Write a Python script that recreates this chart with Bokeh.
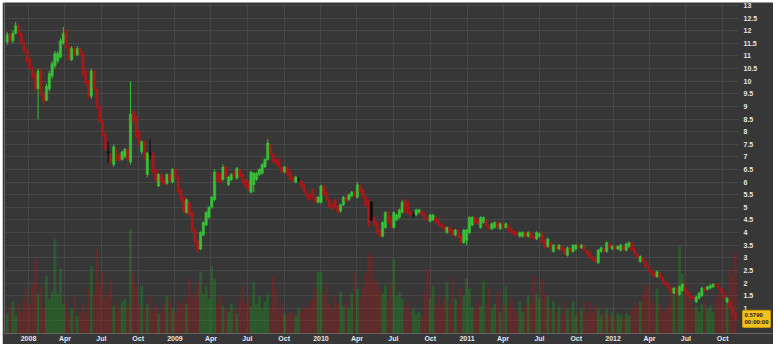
import numpy as np
import pandas as pd
from bokeh.plotting import figure
from bokeh.models import (ColumnDataSource, Range1d, FixedTicker,
                          CustomJSTickFormatter, Label)
from bokeh.embed import file_html
from bokeh.resources import INLINE

# ---------------- data (weekly bars) ----------------
FIRST_WEEK = "2007-11-09"

OPEN = [
    11.55, 11.85, 11.6, 11.9, 12.2, 11.9, 11.5, 11.2, 10.9, 10.5,
    10.3, 9.7, 10.4, 9.5, 9.25, 9.7, 10.2, 10.6, 10.8, 10.95,
    11.5, 12.0, 11.35, 10.85, 11.3, 11.05, 11.3, 11.1, 10.4, 10.0,
    9.4, 10.4, 9.7, 9.0, 8.4, 7.9, 7.2, 7.1, 6.7, 7.3,
    7.1, 6.9, 7.0, 7.3, 6.8, 8.8, 8.6, 8.0, 7.2, 7.6,
    6.3, 7.15, 7.15, 6.5, 5.85, 6.3, 6.1, 5.95, 6.3, 6.0,
    6.5, 6.2, 5.7, 5.4, 4.8, 5.2, 4.8, 4.1, 3.65, 3.35,
    3.9, 4.3, 4.6, 5.0, 5.3, 6.4, 6.3, 6.1, 6.6, 5.9,
    6.1, 6.4, 6.15, 6.5, 6.3, 6.1, 6.0, 5.6, 5.9, 6.1,
    6.3, 6.35, 6.6, 6.9, 7.45, 7.1, 6.9, 6.9, 6.6, 6.4,
    6.6, 6.4, 6.2, 6.0, 6.1, 6.05, 5.9, 5.6, 5.5, 5.7,
    5.4, 5.2, 5.2, 5.85, 5.6, 5.3, 5.1, 5.3, 5.05, 4.85,
    5.1, 5.4, 5.3, 5.45, 5.6, 5.4, 5.85, 5.7, 5.4, 5.3,
    5.2, 4.6, 4.4, 4.1, 3.85, 4.2, 4.8, 4.6, 4.2, 4.5,
    4.6, 4.8, 5.3, 5.2, 4.8, 4.7, 4.7, 4.8, 4.85, 4.75,
    4.6, 4.45, 4.5, 4.6, 4.45, 4.35, 4.25, 4.0, 4.2, 4.1,
    3.9, 4.1, 3.9, 3.6, 3.7, 4.0, 4.3, 4.6, 4.5, 4.2,
    4.4, 4.5, 4.3, 4.15, 4.2, 4.4, 4.15, 4.35, 4.2, 4.3,
    4.15, 4.05, 4.0, 3.85, 3.85, 4.0, 3.85, 4.0, 3.85, 3.75,
    3.85, 3.95, 3.7, 3.45, 3.6, 3.25, 3.45, 3.35, 3.45, 3.35,
    3.1, 3.35, 3.25, 3.35, 3.5, 3.4, 3.45, 3.3, 3.2, 3.05,
    2.95, 2.8, 3.25, 3.35, 3.25, 3.55, 3.35, 3.45, 3.35, 3.3,
    3.45, 3.3, 3.45, 3.6, 3.35, 3.15, 2.85, 3.0, 2.85, 2.65,
    2.5, 2.4, 2.25, 2.4, 2.2, 2.05, 1.95, 1.8, 1.6, 1.75,
    1.55, 1.7, 1.8, 1.65, 1.5, 1.45, 1.25, 1.4, 1.5, 1.8,
    1.75, 1.8, 1.85, 1.95, 1.9, 1.8, 1.6, 1.25, 1.3, 1.0,
    0.8,
]

CLOSE = [
    11.85, 11.6, 11.9, 12.2, 11.9, 11.5, 11.2, 10.8, 10.5, 10.2,
    9.7, 10.4, 9.5, 9.2, 9.8, 10.3, 10.7, 11.1, 11.1, 11.6,
    11.9, 11.35, 10.85, 11.3, 11.05, 11.3, 11.1, 10.3, 9.9, 9.4,
    10.4, 9.7, 9.0, 8.4, 7.9, 7.3, 7.15, 6.8, 7.4, 6.9,
    6.85, 7.2, 7.3, 6.9, 8.7, 8.4, 7.8, 7.5, 7.6, 7.1,
    7.15, 7.1, 6.4, 6.05, 6.3, 6.0, 5.9, 6.3, 6.05, 6.5,
    6.2, 5.6, 5.3, 4.8, 5.3, 4.7, 4.1, 3.65, 3.3, 4.0,
    4.4, 4.8, 5.0, 5.4, 6.4, 6.0, 6.0, 6.6, 6.2, 6.2,
    6.3, 6.2, 6.55, 6.2, 6.0, 5.8, 5.7, 6.4, 6.35, 6.35,
    6.5, 6.7, 6.9, 7.55, 7.1, 6.8, 6.7, 6.6, 6.4, 6.6,
    6.3, 6.1, 6.05, 6.2, 6.1, 5.8, 5.6, 5.4, 5.3, 5.4,
    5.2, 5.4, 5.85, 5.5, 5.3, 5.0, 4.95, 5.0, 4.8, 5.1,
    5.4, 5.25, 5.5, 5.6, 5.45, 5.9, 5.6, 5.4, 5.05, 4.3,
    4.5, 4.3, 4.0, 3.85, 4.4, 4.8, 4.4, 4.2, 4.8, 4.7,
    4.9, 5.2, 4.8, 4.75, 4.7, 4.7, 4.9, 4.9, 4.7, 4.6,
    4.5, 4.7, 4.7, 4.4, 4.3, 4.2, 4.1, 4.2, 4.0, 3.9,
    4.1, 3.8, 3.6, 4.1, 4.1, 4.6, 4.6, 4.4, 4.35, 4.6,
    4.6, 4.25, 4.15, 4.35, 4.4, 4.2, 4.35, 4.2, 4.35, 4.1,
    3.95, 3.9, 3.9, 4.0, 4.0, 3.85, 4.0, 3.8, 3.75, 4.0,
    3.95, 3.6, 3.4, 3.75, 3.4, 3.5, 3.35, 3.5, 3.3, 3.15,
    3.4, 3.25, 3.5, 3.5, 3.4, 3.5, 3.3, 3.15, 3.0, 2.9,
    2.85, 3.3, 3.4, 3.25, 3.6, 3.4, 3.45, 3.35, 3.45, 3.5,
    3.3, 3.55, 3.6, 3.3, 3.15, 3.0, 3.05, 2.85, 2.65, 2.5,
    2.35, 2.25, 2.45, 2.2, 2.05, 1.9, 1.8, 1.65, 1.8, 1.6,
    1.85, 1.95, 1.65, 1.5, 1.4, 1.35, 1.45, 1.6, 1.8, 1.7,
    1.85, 1.9, 1.95, 1.9, 1.8, 1.6, 1.4, 1.4, 1.0, 0.8,
    0.579,
]

HIGH = [
    11.95, 11.9, 12.0, 12.35, 12.25, 11.95, 11.6, 11.3, 10.95, 10.6,
    10.4, 10.5, 10.5, 9.6, 9.9, 10.4, 10.8, 11.2, 11.2, 11.7,
    12.15, 12.05, 11.4, 11.4, 11.35, 11.4, 11.35, 11.15, 10.45, 10.05,
    10.5, 10.45, 9.75, 9.05, 8.45, 7.95, 7.6, 7.15, 7.5, 7.35,
    7.15, 7.25, 7.35, 7.35, 10.0, 8.9, 8.65, 8.05, 7.65, 7.65,
    7.2, 7.7, 7.2, 6.55, 6.35, 6.35, 6.15, 6.35, 6.35, 6.55,
    6.55, 6.25, 5.75, 5.45, 5.35, 5.25, 4.85, 4.15, 3.7, 4.05,
    4.45, 4.85, 5.05, 5.45, 6.5, 6.45, 6.35, 6.7, 6.65, 6.25,
    6.35, 6.45, 6.6, 6.55, 6.35, 6.15, 6.05, 6.45, 6.4, 6.4,
    6.55, 6.75, 6.95, 7.7, 7.5, 7.15, 6.95, 6.95, 6.65, 6.65,
    6.65, 6.45, 6.25, 6.25, 6.2, 6.1, 5.95, 5.65, 5.55, 5.75,
    5.45, 5.45, 5.9, 5.9, 5.65, 5.35, 5.15, 5.35, 5.1, 5.15,
    5.45, 5.45, 5.55, 5.65, 5.65, 6.0, 5.9, 5.75, 5.45, 5.35,
    5.25, 4.65, 4.45, 4.15, 4.45, 4.85, 4.85, 4.65, 4.85, 4.75,
    4.95, 5.3, 5.35, 5.25, 4.85, 4.8, 4.95, 4.95, 4.9, 4.8,
    4.65, 4.75, 4.75, 4.65, 4.5, 4.4, 4.3, 4.25, 4.25, 4.15,
    4.15, 4.15, 3.95, 4.15, 4.15, 4.65, 4.65, 4.65, 4.55, 4.65,
    4.65, 4.55, 4.35, 4.4, 4.45, 4.45, 4.4, 4.4, 4.4, 4.35,
    4.2, 4.1, 4.05, 4.05, 4.05, 4.05, 4.05, 4.05, 3.9, 4.05,
    4.0, 4.0, 3.75, 3.8, 3.65, 3.55, 3.5, 3.55, 3.5, 3.4,
    3.45, 3.4, 3.55, 3.55, 3.55, 3.55, 3.5, 3.35, 3.25, 3.1,
    3.0, 3.35, 3.45, 3.4, 3.65, 3.6, 3.5, 3.5, 3.5, 3.55,
    3.5, 3.6, 3.65, 3.65, 3.4, 3.2, 3.1, 3.05, 2.9, 2.7,
    2.55, 2.45, 2.5, 2.45, 2.25, 2.1, 2.0, 1.85, 1.85, 1.8,
    1.9, 2.0, 1.85, 1.7, 1.55, 1.5, 1.5, 1.65, 1.85, 1.85,
    1.9, 1.95, 2.0, 2.0, 1.95, 1.85, 1.65, 1.45, 1.35, 1.05,
    0.85,
]

LOW = [
    11.45, 11.5, 11.5, 11.85, 11.8, 11.4, 11.1, 10.7, 10.4, 10.1,
    9.6, 8.5, 9.4, 9.05, 9.2, 9.6, 10.1, 10.5, 10.7, 10.9,
    11.45, 11.3, 10.8, 10.8, 11.0, 11.0, 11.0, 10.2, 9.8, 9.3,
    9.3, 9.6, 8.9, 8.3, 7.8, 7.2, 6.75, 6.7, 6.6, 6.85,
    6.8, 6.85, 6.95, 6.6, 6.7, 8.3, 7.7, 7.4, 7.1, 6.9,
    6.2, 6.9, 6.3, 6.0, 5.8, 5.95, 5.85, 5.9, 6.0, 5.95,
    6.15, 5.55, 5.2, 4.7, 4.75, 4.6, 4.0, 3.55, 3.2, 3.3,
    3.85, 4.25, 4.55, 4.95, 5.25, 5.95, 5.95, 6.05, 6.15, 5.85,
    6.05, 6.15, 6.1, 6.15, 5.95, 5.75, 5.65, 5.55, 5.6, 6.05,
    6.25, 6.3, 6.55, 6.85, 7.05, 6.75, 6.65, 6.55, 6.35, 6.35,
    6.25, 6.05, 6.0, 5.95, 6.0, 5.75, 5.55, 5.35, 5.25, 5.35,
    5.15, 5.15, 5.15, 5.45, 5.25, 4.95, 4.9, 4.95, 4.75, 4.8,
    5.05, 5.2, 5.25, 5.4, 5.4, 5.35, 5.55, 5.35, 5.0, 4.2,
    4.45, 4.25, 3.95, 3.8, 3.8, 4.15, 4.35, 4.15, 4.15, 4.45,
    4.55, 4.75, 4.75, 4.7, 4.65, 4.6, 4.65, 4.75, 4.65, 4.55,
    4.45, 4.4, 4.45, 4.35, 4.25, 4.15, 4.05, 3.95, 3.95, 3.85,
    3.85, 3.75, 3.5, 3.55, 3.5, 3.95, 4.25, 4.35, 4.3, 4.15,
    4.35, 4.2, 4.1, 4.1, 4.15, 4.15, 4.1, 4.15, 4.15, 4.05,
    3.9, 3.85, 3.85, 3.8, 3.8, 3.8, 3.8, 3.75, 3.7, 3.7,
    3.8, 3.55, 3.35, 3.4, 3.35, 3.2, 3.3, 3.3, 3.25, 3.1,
    3.05, 3.2, 3.2, 3.3, 3.35, 3.35, 3.25, 3.1, 2.95, 2.85,
    2.8, 2.75, 3.2, 3.2, 3.2, 3.35, 3.3, 3.3, 3.3, 3.25,
    3.25, 3.25, 3.4, 3.25, 3.1, 2.95, 2.8, 2.8, 2.6, 2.45,
    2.3, 2.2, 2.2, 2.15, 2.0, 1.85, 1.75, 1.6, 1.55, 1.55,
    1.5, 1.65, 1.6, 1.45, 1.35, 1.3, 1.2, 1.35, 1.45, 1.65,
    1.7, 1.75, 1.8, 1.85, 1.75, 1.55, 1.35, 1.2, 0.95, 0.75,
    0.55,
]

# weekly volume, hundreds of thousands of shares
VOLUME = [
    20, 28, 32, 18, 30, 22, 35, 45, 30, 50,
    75, 40, 48, 25, 58, 35, 42, 95, 40, 65,
    30, 32, 20, 25, 38, 18, 22, 30, 20, 45,
    68, 40, 85, 50, 62, 35, 42, 55, 28, 32,
    25, 32, 35, 28, 105, 60, 48, 30, 48, 25,
    30, 38, 22, 28, 20, 22, 30, 38, 35, 25,
    20, 32, 28, 35, 30, 55, 40, 35, 50, 62,
    40, 48, 35, 68, 55, 30, 38, 28, 25, 22,
    30, 25, 20, 35, 48, 30, 38, 28, 52, 30,
    38, 25, 32, 40, 28, 58, 45, 25, 32, 20,
    18, 22, 20, 18, 25, 22, 28, 25, 32, 35,
    45, 62, 62, 40, 48, 30, 25, 38, 30, 42,
    28, 32, 25, 40, 62, 45, 35, 48, 60, 82,
    78, 55, 52, 45, 40, 48, 35, 50, 75, 38,
    42, 35, 28, 32, 22, 25, 20, 22, 18, 40,
    65, 35, 48, 30, 38, 28, 35, 52, 30, 58,
    35, 30, 45, 38, 55, 45, 28, 25, 32, 28,
    52, 30, 45, 25, 30, 42, 22, 30, 48, 28,
    35, 25, 20, 32, 22, 28, 38, 30, 58, 40,
    35, 55, 40, 38, 25, 32, 22, 28, 20, 32,
    25, 22, 32, 18, 22, 25, 32, 20, 32, 22,
    28, 25, 18, 20, 25, 18, 22, 15, 20, 18,
    15, 20, 18, 25, 32, 28, 32, 40, 48, 48,
    35, 30, 45, 30, 22, 25, 30, 45, 38, 50,
    88, 60, 52, 35, 38, 25, 28, 22, 30, 32,
    25, 28, 22, 35, 42, 38, 30, 35, 65, 58,
    82,
]

# weeks drawn as black (unchanged) candles
BLACK_WEEKS = ["2008-07-18", "2008-10-31", "2009-11-06", "2010-05-07", "2010-08-20"]

Y_TICKS = [0.5, 1, 1.5, 2, 2.5, 3, 3.5, 4, 4.5, 5, 5.5, 6, 6.5, 7, 7.5, 8,
           8.5, 9, 9.5, 10, 10.5, 11, 11.5, 12, 12.5, 13]
LAST_PRICE_TEXT = "0.5790\n00:00:00"

# ---------------- styling ----------------
GREEN = "#36c236"
RED = "#a8191a"
BLACK = "#0c0c0c"
VGREEN = "#1f8f1f"
VRED = "#9a1a1a"
BG = "#373737"
GRID = "#474747"
TXT = "#e6e6e6"
FONT = "Liberation Sans"

DAY = 86400000
dates = pd.date_range(FIRST_WEEK, periods=len(CLOSE), freq="7D")
xms = (dates.astype("int64") // 10**6).astype(float).tolist()
black_set = set(pd.to_datetime(BLACK_WEEKS))

colors, vcolors = [], []
for d, o, c in zip(dates, OPEN, CLOSE):
    if d in black_set:
        colors.append(BLACK)
    elif c >= o:
        colors.append(GREEN)
    else:
        colors.append(RED)
    vcolors.append(VGREEN if c >= o else VRED)

src = ColumnDataSource(dict(
    x=xms,
    open=OPEN, close=CLOSE, high=HIGH, low=LOW,
    top=[max(o, c) for o, c in zip(OPEN, CLOSE)],
    bottom=[min(o, c) for o, c in zip(OPEN, CLOSE)],
    volume=VOLUME, color=colors, vcolor=vcolors,
))

# the frame runs the full width; the price scale is drawn over its right strip
jan08 = pd.Timestamp("2008-01-01").value // 10**6
x_start = jan08 - 60 * DAY
data_end = jan08 + 1775 * DAY
x_range = Range1d(x_start, jan08 + 1862 * DAY)

p = figure(width=771, height=342, x_range=x_range, y_range=Range1d(0, 13.12),
           output_backend="svg", toolbar_location=None, y_axis_location="right",
           background_fill_color=BG, border_fill_color=BG,
           min_border_left=2, min_border_right=0, min_border_top=0,
           min_border_bottom=9)
p.margin = (2, 4, 3, 2)
p.outline_line_color = None

p.extra_y_ranges = {"vol": Range1d(0, 333)}

# volume
p.vbar(x="x", width=7 * DAY, top="volume", bottom=0, y_range_name="vol",
       fill_color="vcolor", fill_alpha=0.4, line_color=None, source=src)

# candles
p.segment(x0="x", y0="low", x1="x", y1="high", line_color="color",
          line_width=1, source=src)
p.vbar(x="x", width=6 * DAY, top="top", bottom="bottom",
       fill_color="color", line_color="color", line_width=0.5, source=src)

# axes
quarters = pd.date_range("2008-01-01", "2012-10-01", freq="QS")
qticks = [float(t.value // 10**6) for t in quarters]
xa = p.xaxis[0]
xa.ticker = FixedTicker(ticks=qticks)
xa.formatter = CustomJSTickFormatter(code="""
const d = new Date(tick);
const m = d.getUTCMonth();
const names = ["Jan","Feb","Mar","Apr","May","Jun","Jul","Aug","Sep","Oct","Nov","Dec"];
return m == 0 ? String(d.getUTCFullYear()) : names[m];
""")
ya = p.yaxis[0]
ya.ticker = FixedTicker(ticks=Y_TICKS)
ya.formatter = CustomJSTickFormatter(code="""
return Number.isInteger(tick) ? tick.toFixed(0) : tick.toFixed(1);
""")
for ax in (xa, ya):
    ax.axis_line_color = None
    ax.major_tick_line_color = None
    ax.minor_tick_line_color = None
    ax.major_tick_out = 0
    ax.major_tick_in = 0
    ax.major_label_text_color = TXT
    ax.major_label_text_font = FONT
    ax.major_label_text_font_size = "7px"
    ax.major_label_text_font_style = "bold"
xa.major_label_standoff = 1
ya.major_label_standoff = -30

p.xgrid.grid_line_color = GRID
p.ygrid.grid_line_color = GRID
p.xgrid.grid_line_width = 1
p.ygrid.grid_line_width = 1
try:
    p.ygrid.cross_bounds = (x_start, data_end)
except Exception:
    pass

# last price tag
tag = Label(x=xms[-1], y=CLOSE[-1], x_offset=7, y_offset=0,
            text=LAST_PRICE_TEXT, text_font=FONT, text_font_size="6px",
            text_font_style="bold", text_color="#1a1a1a",
            text_align="left", text_baseline="middle",
            background_fill_color="#f3c31c", background_fill_alpha=1.0,
            border_line_color="#c79a0a", padding=2, border_radius=1)
p.add_layout(tag)

open("out.html", "w").write(file_html(p, INLINE))
